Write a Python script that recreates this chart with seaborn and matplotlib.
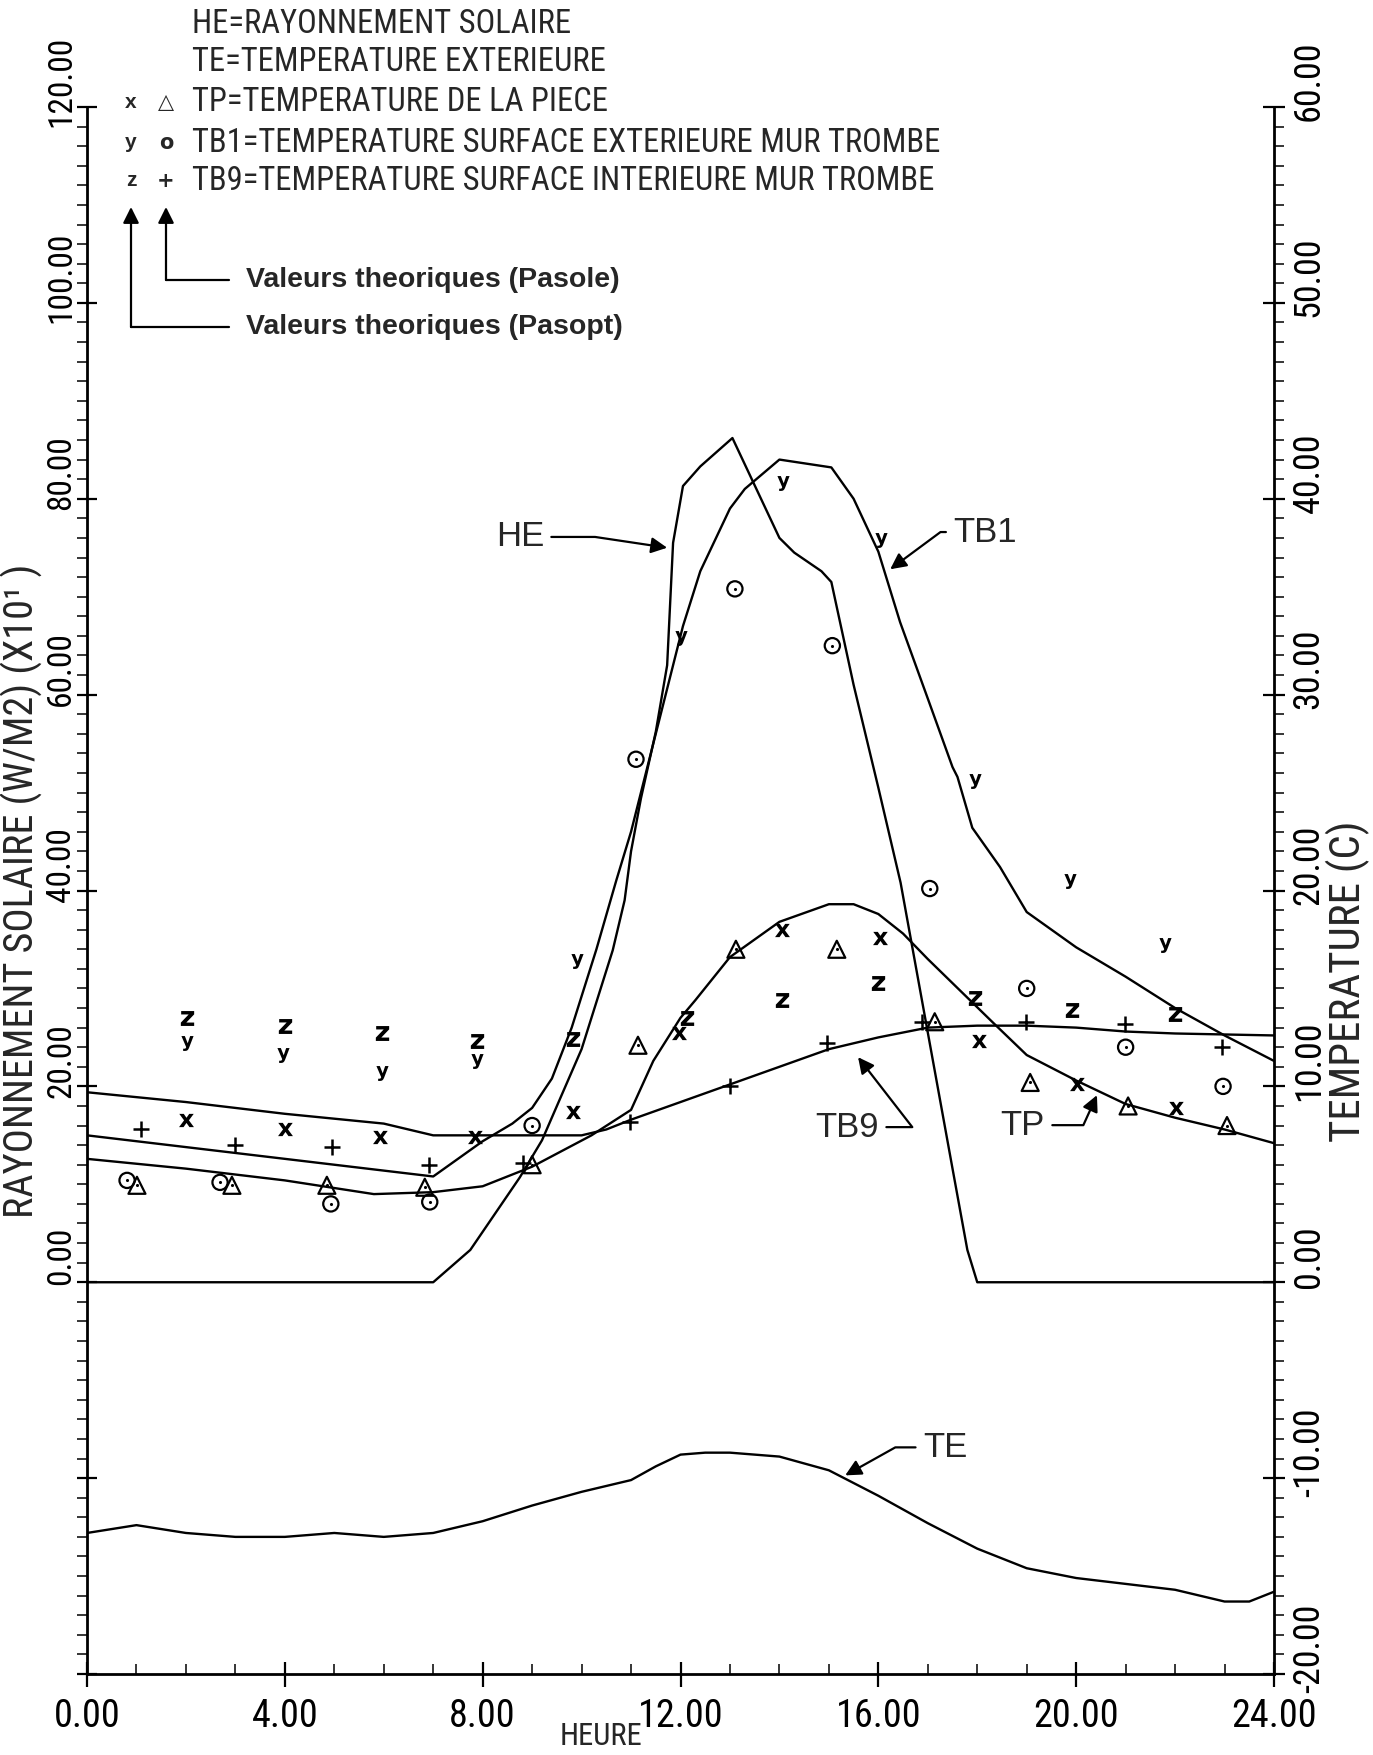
import matplotlib
matplotlib.use("Agg")
import matplotlib.pyplot as plt
import numpy as np
import pandas as pd
import seaborn as sns
from matplotlib import font_manager as fm
from matplotlib.font_manager import FontProperties
from matplotlib.transforms import ScaledTranslation

# ---------------- data ----------------
# HE : solar radiation, left axis units (W/m2 x10^1)
he_hours = [0, 7.0, 7.75, 8.75, 9.2, 10.0, 10.63, 10.87, 11.0, 11.2, 11.5, 11.73, 11.85,
            12.05, 12.4, 13.05, 14.0, 14.3, 14.85, 15.05, 15.5, 16.0, 16.45, 17.0, 17.5,
            17.8, 18.0, 24.0]
he_vals = [0, 0, 3.3, 10.7, 14.5, 23.8, 33.9, 39.0, 44.0, 49.4, 56.2, 63.0, 75.5,
           81.3, 83.3, 86.2, 76.0, 74.5, 72.6, 71.5, 61.0, 50.5, 40.8, 25.5, 11.6,
           3.3, 0, 0]

# TE : outside temperature (C)
te_hours = [0, 1, 2, 3, 4, 5, 6, 7, 8, 9, 10, 11, 11.5, 12, 12.5, 13, 14, 15, 16, 17,
            18, 19, 20, 21, 22, 23, 23.5, 24]
te_vals = [-12.8, -12.4, -12.8, -13.0, -13.0, -12.8, -13.0, -12.8, -12.2, -11.4, -10.7,
           -10.1, -9.4, -8.8, -8.7, -8.7, -8.9, -9.6, -10.9, -12.3, -13.6, -14.6, -15.1,
           -15.4, -15.7, -16.3, -16.3, -15.8]

# TP : room temperature (C)
tp_hours = [0, 2, 4, 5.8, 7, 8, 9, 10.2, 11, 11.45, 12, 12.3, 13, 14, 15, 15.5, 16, 16.5,
            17, 18.3, 19, 20, 21, 22, 23, 24]
tp_vals = [6.3, 5.8, 5.2, 4.5, 4.6, 4.9, 5.9, 7.5, 8.8, 11.3, 13.5, 14.4, 16.6, 18.4,
           19.3, 19.3, 18.8, 17.8, 16.5, 13.3, 11.6, 10.3, 9.1, 8.4, 7.8, 7.1]

# TB1 : outer surface temperature of the Trombe wall (C)
tb1_hours = [0, 1, 2, 3, 4, 5, 6, 7, 8, 8.6, 9, 9.4, 9.8, 10.3, 10.7, 11.0, 11.4, 11.75,
             12.05, 12.4, 13.0, 13.3, 14.0, 15.05, 15.5, 16.0, 16.44, 17.0, 17.5, 17.6,
             17.9, 18.46, 19.0, 20.0, 21.0, 22.0, 23.0, 24.0]
tb1_vals = [7.5, 7.2, 6.9, 6.6, 6.3, 6.0, 5.7, 5.4, 7.2, 8.1, 8.9, 10.4, 13.0, 17.0, 20.5,
            23.0, 27.0, 30.5, 33.5, 36.3, 39.5, 40.5, 42.0, 41.6, 40.0, 37.3, 33.7, 29.8,
            26.3, 25.8, 23.2, 21.2, 18.9, 17.1, 15.6, 14.0, 12.6, 11.3]

# TB9 : inner surface temperature of the Trombe wall (C)
tb9_hours = [0, 2, 4, 6, 7, 8, 9, 10, 10.5, 11, 12, 13, 14, 15, 16, 17, 18, 19, 20, 21, 22, 24]
tb9_vals = [9.7, 9.2, 8.6, 8.1, 7.5, 7.5, 7.5, 7.5, 7.8, 8.3, 9.2, 10.1, 11.0, 11.9, 12.5,
            13.0, 13.1, 13.1, 13.0, 12.8, 12.7, 12.6]

# Pasole theoretical values (symbols)
tp_pasole_hours = [1.01, 2.93, 4.85, 6.83, 9.0, 11.14, 13.12, 15.16, 17.14, 19.07, 21.05, 23.05]
tp_pasole_vals = [4.95, 4.95, 4.95, 4.85, 6.0, 12.1, 17.0, 17.0, 13.3, 10.2, 9.0, 8.0]
tb1_pasole_hours = [0.81, 2.69, 4.93, 6.93, 9.0, 11.1, 13.1, 15.07, 17.04, 19.0, 21.0, 22.97]
tb1_pasole_vals = [5.2, 5.1, 4.0, 4.1, 8.0, 26.7, 35.4, 32.5, 20.1, 15.0, 12.0, 10.0]
tb9_pasole_hours = [1.09, 2.99, 4.95, 6.91, 8.82, 10.98, 13.0, 14.96, 16.88, 18.98, 20.99, 22.95]
tb9_pasole_vals = [7.8, 7.0, 6.9, 6.0, 6.1, 8.2, 10.0, 12.2, 13.3, 13.3, 13.2, 12.0]

# Pasopt theoretical values (letters x, y, z)
tp_pasopt_hours = [2.0, 4.0, 5.92, 7.84, 9.83, 11.97, 14.05, 16.03, 18.03, 20.02, 22.02]
tp_pasopt_vals = [8.3, 7.8, 7.4, 7.4, 8.7, 12.7, 18.0, 17.6, 12.3, 10.1, 8.9]
tb1_pasopt_hours = [2.02, 3.96, 5.96, 7.89, 9.91, 12.0, 14.07, 16.05, 17.95, 19.87, 21.8]
tb1_pasopt_vals = [12.2, 11.6, 10.7, 11.3, 16.4, 32.9, 40.8, 37.9, 25.6, 20.5, 17.2]
tb9_pasopt_hours = [2.02, 4.0, 5.96, 7.89, 9.83, 12.13, 14.05, 15.99, 17.95, 19.92, 22.0]
tb9_pasopt_vals = [13.5, 13.1, 12.7, 12.3, 12.4, 13.5, 14.4, 15.3, 14.5, 13.9, 13.7]

x_ticks = [0, 4, 8, 12, 16, 20, 24]
x_ticklabels = ["0.00", "4.00", "8.00", "12.00", "16.00", "20.00", "24.00"]
left_ticks = [-40, -20, 0, 20, 40, 60, 80, 100, 120]
left_ticklabels = ["", "", "0.00", "20.00", "40.00", "60.00", "80.00", "100.00", "120.00"]
right_ticks = [-20, -10, 0, 10, 20, 30, 40, 50, 60]
right_ticklabels = ["-20.00", "-10.00", "0.00", "10.00", "20.00", "30.00", "40.00", "50.00", "60.00"]

legend_lines = ["HE=RAYONNEMENT SOLAIRE",
                "TE=TEMPERATURE EXTERIEURE",
                "TP=TEMPERATURE DE LA PIECE",
                "TB1=TEMPERATURE SURFACE EXTERIEURE MUR TROMBE",
                "TB9=TEMPERATURE SURFACE INTERIEURE MUR TROMBE"]

# ---------------- style & fonts ----------------
sns.set_theme(style="ticks")
plt.rcParams["font.family"] = ["DejaVu Sans"]
avail = {f.name for f in fm.fontManager.ttflist}
narrow = next((f for f in ["Liberation Sans Narrow", "Roboto Condensed", "DejaVu Sans Condensed"]
               if f in avail), None)
if narrow is None:
    narrow_family = ["DejaVu Sans"]
    k = 0.74
else:
    narrow_family = [narrow, "DejaVu Sans"]
    k = 1.0
helv = ["Liberation Sans", "DejaVu Sans"]


def pf(size, weight="normal", fam=None):
    return FontProperties(family=fam or narrow_family, stretch="condensed",
                          size=size * (k if fam is None else 1.0), weight=weight)


W, H = 1373, 1755
fig = plt.figure(figsize=(W / 100, H / 100), dpi=100)
fig.patch.set_facecolor("white")
AX_L, AX_R, AX_T, AX_B = 87, 1274, 107, 1674
ax = fig.add_axes([AX_L / W, 1 - AX_B / H, (AX_R - AX_L) / W, (AX_B - AX_T) / H])
ax.set_facecolor("white")
ax2 = ax.twinx()

ax.set_xlim(0, 24)
ax.set_ylim(-40, 120)
ax2.set_ylim(-20, 60)

LW = 1.7
he_df = pd.DataFrame({"h": he_hours, "v": he_vals})
sns.lineplot(data=he_df, x="h", y="v", ax=ax, color="black", lw=LW, sort=False, estimator=None)
for hh, vv in [(te_hours, te_vals), (tp_hours, tp_vals), (tb1_hours, tb1_vals), (tb9_hours, tb9_vals)]:
    d = pd.DataFrame({"h": hh, "v": vv})
    sns.lineplot(data=d, x="h", y="v", ax=ax2, color="black", lw=LW, sort=False, estimator=None)

# Pasole symbols
sns.scatterplot(x=tp_pasole_hours, y=tp_pasole_vals, ax=ax2, marker="^", s=150,
                facecolor="none", edgecolor="black", linewidth=1.6, zorder=5)
sns.scatterplot(x=tb1_pasole_hours, y=tb1_pasole_vals, ax=ax2, marker="o", s=120,
                facecolor="none", edgecolor="black", linewidth=1.6, zorder=5)
sns.scatterplot(x=tp_pasole_hours + tb1_pasole_hours, y=tp_pasole_vals + tb1_pasole_vals,
                ax=ax2, marker="o", s=5, color="black", linewidth=0, zorder=5)
sns.scatterplot(x=tb9_pasole_hours, y=tb9_pasole_vals, ax=ax2, marker="+", s=140,
                color="black", linewidth=1.8, zorder=5)
# Pasopt letters
for hh, vv, letter in [(tp_pasopt_hours, tp_pasopt_vals, "x"),
                       (tb1_pasopt_hours, tb1_pasopt_vals, "y"),
                       (tb9_pasopt_hours, tb9_pasopt_vals, "z")]:
    sns.scatterplot(x=hh, y=vv, ax=ax2, marker=r"$\mathbf{%s}$" % letter, s=115,
                    color="black", linewidth=0, zorder=5)

# ---------------- axes, spines, ticks ----------------
for s in ["top", "right"]:
    ax.spines[s].set_visible(False)
for s in ["top", "left", "bottom"]:
    ax2.spines[s].set_visible(False)
for sp in [ax.spines["left"], ax.spines["bottom"], ax2.spines["right"]]:
    sp.set_linewidth(2.0)
    sp.set_color("black")

ax.set_xticks(x_ticks)
ax.set_xticklabels(x_ticklabels)
ax.set_xticks(np.arange(0, 25, 1), minor=True)
ax.set_yticks(left_ticks)
ax.set_yticklabels(left_ticklabels)
ax.set_yticks(np.arange(-40, 121, 2), minor=True)
ax2.set_yticks(right_ticks)
ax2.set_yticklabels(right_ticklabels)
ax2.set_yticks(np.arange(-20, 61, 1), minor=True)

ax.tick_params(axis="x", which="major", direction="inout", length=18, width=1.6,
               bottom=True, top=False, pad=8, colors="black")
ax.tick_params(axis="x", which="minor", direction="in", length=7, width=1.3, bottom=True, top=False)
ax.tick_params(axis="y", which="major", direction="inout", length=14, width=1.6,
               left=True, right=False, pad=0, colors="black")
ax.tick_params(axis="y", which="minor", direction="out", length=7, width=1.3, left=True, right=False)
ax2.tick_params(axis="y", which="major", direction="inout", length=16, width=1.6,
                right=True, left=False, pad=4, colors="black")
ax2.tick_params(axis="y", which="minor", direction="out", length=7, width=1.3, right=True, left=False)

for lab in ax.get_xticklabels():
    lab.set_fontproperties(pf(27.5))
for lab in ax.get_yticklabels():
    lab.set_fontproperties(pf(24))
    lab.set_rotation(90)
    lab.set_va("center")
    lab.set_transform(lab.get_transform() + ScaledTranslation(0, 0.26, fig.dpi_scale_trans))
for lab in ax2.get_yticklabels():
    lab.set_fontproperties(pf(26))
    lab.set_rotation(90)
    lab.set_va("center")
    lab.set_transform(lab.get_transform() + ScaledTranslation(0, 0.26, fig.dpi_scale_trans))

ax.set_xlabel("HEURE", fontproperties=pf(22))
ax.xaxis.set_label_coords(0.433, -0.040)
ax.xaxis.label.set_va("center")
ax.set_ylabel("RAYONNEMENT SOLAIRE (W/M2) (X10¹ )", fontproperties=pf(29))
ax.yaxis.set_label_coords(-0.055, 0.5)
ax.yaxis.label.set_va("center")
ax2.set_ylabel("TEMPERATURE (C)", fontproperties=pf(31), rotation=90)
ax2.yaxis.set_label_coords(1.062, 0.442)
ax2.yaxis.label.set_va("center")

# ---------------- curve labels with arrows ----------------
arrow_kw = dict(arrowstyle="-|>", color="black", lw=1.6, mutation_scale=24, shrinkA=3, shrinkB=0)
notes = [("HE", (8.75, 38.05), (11.73, 37.5), -8.5),
         ("TB1", (18.16, 38.3), (16.24, 36.4), 36.5),
         ("TB9", (15.37, 7.92), (15.59, 11.49), 127.8),
         ("TP", (18.92, 8.02), (20.42, 9.55), 65.6),
         ("TE", (17.35, -8.43), (15.33, -9.86), 29.2)]
for txt, tpos, tip, angb in notes:
    ax2.annotate(txt, xy=tip, xytext=tpos, textcoords="data", ha="center", va="center",
                 fontproperties=FontProperties(family=helv, size=25),
                 arrowprops=dict(connectionstyle="angle,angleA=0,angleB=%g,rad=0" % angb, **arrow_kw))

# ---------------- header legend ----------------
leg_y = [24, 62, 102, 143, 181]
for txt, yy in zip(legend_lines, leg_y):
    fig.text(192 / W, 1 - yy / H, txt, fontproperties=pf(23.5), ha="left", va="center")
for ch, sym, yy in [("x", "\u25B3", 102), ("y", "o", 143), ("z", "+", 181)]:
    fig.text(131 / W, 1 - yy / H, ch, fontproperties=FontProperties(family=helv, size=15, weight="bold"),
             ha="center", va="center")
    fig.text(166 / W, 1 - yy / H, sym, fontproperties=FontProperties(family=["DejaVu Sans"], size=15, weight="bold"),
             ha="center", va="center")

for x0, ybend, label in [(166, 280, "Valeurs theoriques (Pasole)"), (131, 327, "Valeurs theoriques (Pasopt)")]:
    fig.add_artist(plt.Line2D([x0 / W, 229 / W], [1 - ybend / H, 1 - ybend / H],
                              transform=fig.transFigure, color="black", lw=1.6))
    fig.add_artist(matplotlib.patches.FancyArrowPatch(
        (x0 / W, 1 - ybend / H), (x0 / W, 1 - 207 / H), transform=fig.transFigure,
        arrowstyle="-|>", mutation_scale=24, color="black", lw=1.6, shrinkA=0, shrinkB=0))
    fig.text(246 / W, 1 - ybend / H, label, fontproperties=FontProperties(family=helv, size=20.5, weight="bold"),
             ha="left", va="center")

fig.savefig("out.png", dpi=100, facecolor="white")
